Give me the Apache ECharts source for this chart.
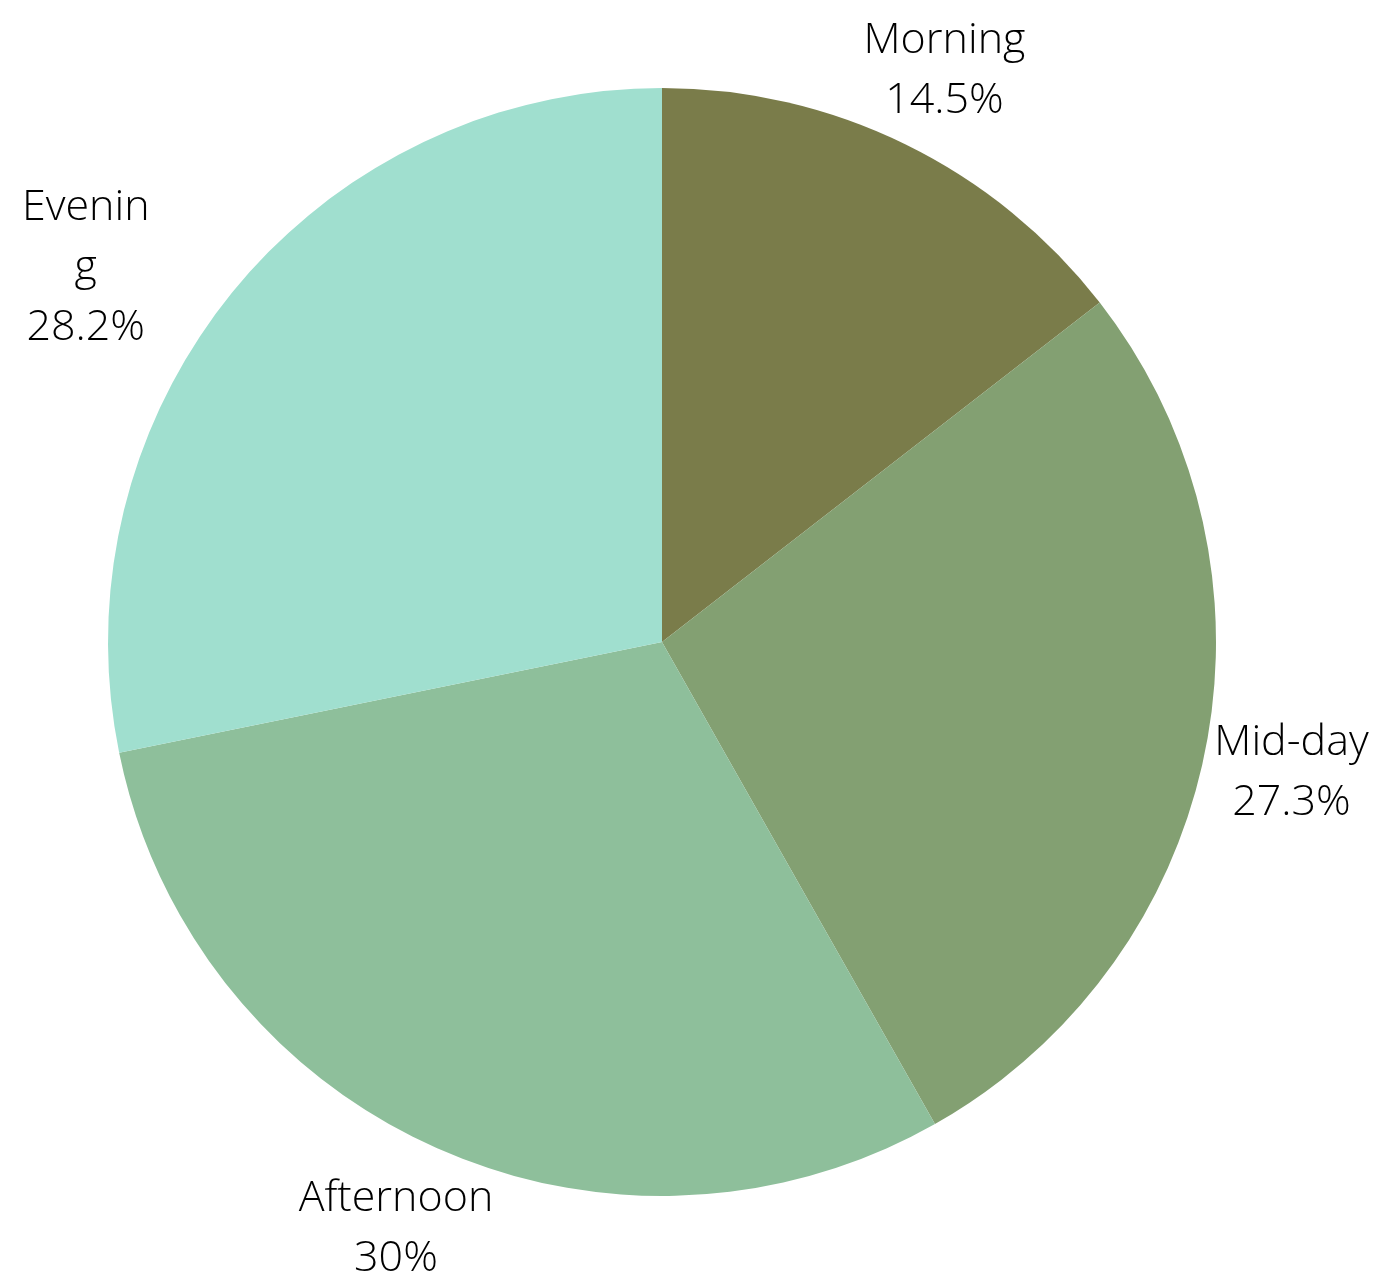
<!DOCTYPE html>
<html style="height: 100%">
<head>
    <meta charset="utf-8">
    <title>Time of day</title>
</head>
<body style="height: 100%; margin: 0; background: #fff">
    <div id="container" style="width: 1383px; height: 1285px"></div>
    <script type="text/javascript" src="https://cdn.jsdelivr.net/npm/echarts@6/dist/echarts.min.js"></script>
    <script type="text/javascript">
        var categories = ['Morning', 'Mid-day', 'Afternoon', 'Evening'];
        var values = [14.5, 27.3, 30, 28.2];
        var colors = ['#7a7c4a', '#83a072', '#8ebf9b', '#a0dfcf'];

        var myChart = echarts.init(document.getElementById('container'));

        var option = {
            animation: false,
            color: colors,
            series: [{
                type: 'pie',
                center: [662, 642],
                radius: 554,
                startAngle: 90,
                clockwise: true,
                data: categories.map(function (name, i) {
                    var item = { name: name, value: values[i] };
                    // the last label wraps like in the original
                    if (name === 'Evening') {
                        item.label = { width: 135, overflow: 'breakAll' };
                    }
                    return item;
                }),
                label: {
                    show: true,
                    position: 'outside',
                    formatter: function (p) {
                        return p.name + '\n' + p.value + '%';
                    },
                    fontFamily: 'Open Sans',
                    fontWeight: 300,
                    fontSize: 43,
                    lineHeight: 60,
                    color: '#000',
                    overflow: 'none',
                    distanceToLabelLine: 0,
                    bleedMargin: 0
                },
                labelLine: {
                    show: false,
                    length: 88,
                    length2: 0
                },
                labelLayout: function (params) {
                    if (params.dataIndex === 3) {
                        return { align: 'center', dx: -79, dy: 32 };
                    }
                    return { align: 'center', dy: 5 };
                },
                emphasis: { disabled: true }
            }]
        };

        myChart.setOption(option);
        window.onresize = function () {
            myChart.resize();
        };
    </script>
</body>
</html>
